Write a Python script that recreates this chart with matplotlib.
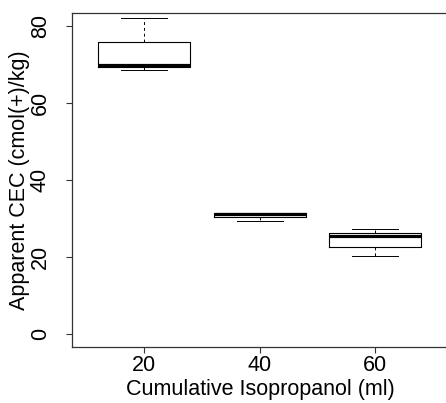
import matplotlib
matplotlib.use("Agg")
import matplotlib.pyplot as plt

# values
groups = ["20", "40", "60"]
whislo = [68.6, 29.3, 20.4]
q1 = [69.4, 30.4, 22.7]
med = [69.8, 31.3, 25.4]
q3 = [75.8, 31.6, 26.2]
whishi = [82.0, 31.6, 27.2]

plt.rcParams["font.family"] = ["Liberation Sans", "DejaVu Sans"]

fig = plt.figure(figsize=(4.46, 4.03), dpi=100)
W, H = 446, 403
ax = fig.add_axes([72 / W, (H - 347) / H, 376 / W, (347 - 13.3) / H])

stats = []
for i in range(len(groups)):
	stats.append({
		"whislo": whislo[i], "q1": q1[i], "med": med[i],
		"q3": q3[i], "whishi": whishi[i], "fliers": [],
	})

ax.bxp(stats, positions=[1, 2, 3], widths=0.8, showfliers=False,
	boxprops=dict(color="black", linewidth=0.8),
	medianprops=dict(color="black", linewidth=2.3, solid_capstyle="butt"),
	whiskerprops=dict(color="black", linewidth=0.7, linestyle=(0, (3, 3))),
	capprops=dict(color="black", linewidth=0.7),
	capwidths=0.4)

ax.set_xlim(0.374, 3.63)
ax.set_ylim(-3.3, 83.3)
ax.set_xticks([1, 2, 3])
ax.set_xticklabels(groups)
ax.set_yticks([0, 20, 40, 60, 80])
for lab in ax.get_yticklabels():
	lab.set_rotation(90)
	lab.set_va("center")

fs = 15.5
ax.tick_params(axis="both", labelsize=fs, length=4.3, width=0.8, color="#333333")
ax.tick_params(axis="y", pad=11)
ax.tick_params(axis="x", pad=1.5)
for s in ax.spines.values():
	s.set_color("#333333")
	s.set_linewidth(0.9)

ax.set_xlabel("Cumulative Isopropanol (ml)", fontsize=fs, labelpad=2)
ax.set_ylabel("Apparent CEC (cmol(+)/kg)", fontsize=fs, labelpad=0)

fig.savefig("out.png", dpi=100)
